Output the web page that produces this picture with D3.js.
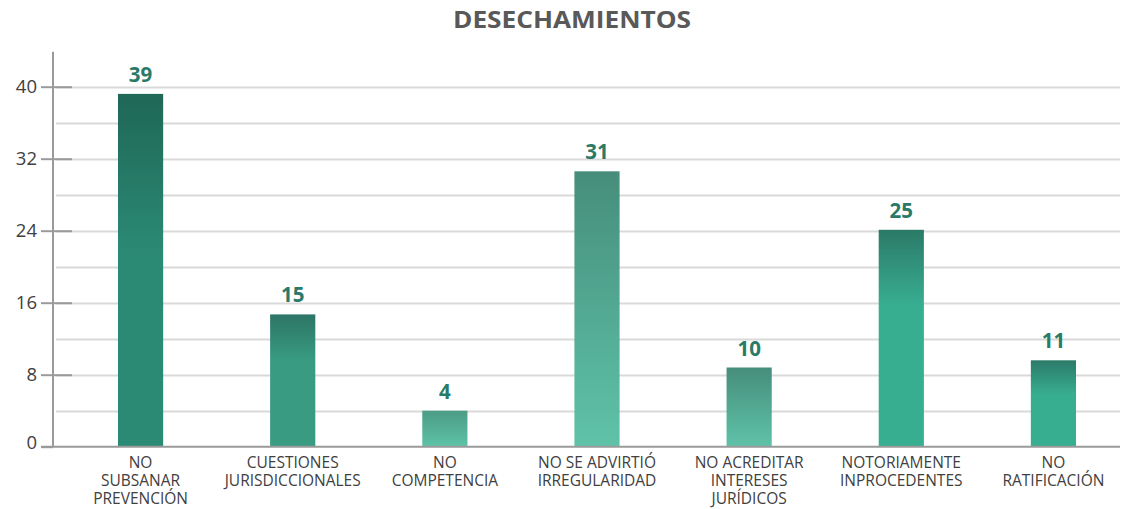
<!DOCTYPE html>
<html>
<head>
<meta charset="utf-8">
<script src="https://cdn.jsdelivr.net/npm/d3@7"></script>
<style>
  body { margin: 0; background: #fff; }
  svg { display: block; font-family: "Open Sans", sans-serif; }
</style>
</head>
<body>
<div id="chart"></div>
<script>
const width = 1123;
const height = 509;

// data
const categories = [
  ["NO", "SUBSANAR", "PREVENCIÓN"],
  ["CUESTIONES", "JURISDICCIONALES"],
  ["NO", "COMPETENCIA"],
  ["NO SE ADVIRTIÓ", "IRREGULARIDAD"],
  ["NO ACREDITAR", "INTERESES", "JURÍDICOS"],
  ["NOTORIAMENTE", "INPROCEDENTES"],
  ["NO", "RATIFICACIÓN"]
];
const labels = [39, 15, 4, 31, 10, 25, 11];          // numbers printed above bars
const barHeights = [39.2, 14.7, 4, 30.6, 8.8, 24.1, 9.6]; // where the bars actually end
const majorTicks = [0, 8, 16, 24, 32, 40];
const minorTicks = [4, 12, 20, 28, 36];

// gradient per bar: top colour, bottom colour, where the fade stops
const barColors = [
  ["#1f6757", "#2b8a74", 0.45],
  ["#2d7566", "#389b82", 0.35],
  ["#4b9c85", "#5ec3a8", 1],
  ["#468e7b", "#5fc3a9", 1],
  ["#468e7b", "#5fc3a9", 1],
  ["#2b7a68", "#38ae91", 0.35],
  ["#2b7a68", "#38ae91", 0.4]
];

const axisX = 53;
const gridRight = 1120;

const svg = d3.select("#chart").append("svg")
  .attr("width", width)
  .attr("height", height);

const x = d3.scaleBand()
  .domain(d3.range(categories.length))
  .range([64.5, 1129.5])
  .paddingInner(0.703)
  .paddingOuter(0.3515);

const y = d3.scaleLinear()
  .domain([0, 44])
  .range([446.7, 50.7]);

// title
svg.append("text")
  .attr("x", 572)
  .attr("y", 28)
  .attr("text-anchor", "middle")
  .attr("font-size", 24)
  .attr("font-weight", 700)
  .attr("fill", "#595959")
  .attr("textLength", 238)
  .attr("lengthAdjust", "spacingAndGlyphs")
  .text("DESECHAMIENTOS");

// grid lines
svg.append("g").selectAll("line")
  .data(majorTicks.concat(minorTicks).filter(d => d > 0))
  .enter()
  .append("line")
  .attr("x1", axisX + 3)
  .attr("x2", gridRight)
  .attr("y1", d => Math.round(y(d)) + 0.5)
  .attr("y2", d => Math.round(y(d)) + 0.5)
  .attr("stroke", "#d9d9d9")
  .attr("stroke-width", 2);

// y axis with tick labels
const yAxis = svg.append("g")
  .attr("transform", `translate(${axisX},0)`)
  .call(d3.axisLeft(y).tickValues(majorTicks).tickSize(12).tickPadding(4));
yAxis.select(".domain").remove();
yAxis.selectAll(".tick line").attr("stroke", "#9a9a9a").attr("stroke-width", 2);
yAxis.selectAll(".tick text")
  .attr("font-family", "'Open Sans', sans-serif")
  .attr("font-size", 18.5)
  .attr("fill", "#404040");
yAxis.selectAll(".tick").filter(d => d === 0).select("text").attr("dy", "0.1em");

// tick stubs to the right of the axis
svg.append("g")
  .attr("transform", `translate(${axisX},0)`)
  .call(d3.axisRight(y).tickValues(majorTicks.filter(d => d > 0)).tickSize(19).tickFormat(""))
  .call(g => g.select(".domain").remove())
  .selectAll(".tick line").attr("stroke", "#9a9a9a").attr("stroke-width", 2);

// vertical axis line
svg.append("line")
  .attr("x1", axisX).attr("x2", axisX)
  .attr("y1", y(44) + 1).attr("y2", y(0))
  .attr("stroke", "#9a9a9a")
  .attr("stroke-width", 2);

// gradients
const defs = svg.append("defs");
barColors.forEach((c, i) => {
  const g = defs.append("linearGradient")
    .attr("id", "grad" + i)
    .attr("x1", 0).attr("y1", 0).attr("x2", 0).attr("y2", 1);
  g.append("stop").attr("offset", 0).attr("stop-color", c[0]);
  g.append("stop").attr("offset", c[2]).attr("stop-color", c[1]);
  g.append("stop").attr("offset", 1).attr("stop-color", c[1]);
});

// bars
svg.append("g").selectAll("rect")
  .data(barHeights)
  .enter()
  .append("rect")
  .attr("x", (d, i) => x(i))
  .attr("y", d => y(d))
  .attr("width", x.bandwidth())
  .attr("height", d => y(0) - y(d))
  .attr("fill", (d, i) => `url(#grad${i})`);

// baseline
svg.append("line")
  .attr("x1", 41).attr("x2", gridRight)
  .attr("y1", y(0)).attr("y2", y(0))
  .attr("stroke", "#9a9a9a")
  .attr("stroke-width", 2);

// value labels
svg.append("g").selectAll("text")
  .data(labels)
  .enter()
  .append("text")
  .attr("x", (d, i) => x(i) + x.bandwidth() / 2)
  .attr("y", (d, i) => y(barHeights[i]) - 12)
  .attr("text-anchor", "middle")
  .attr("font-size", 20.5)
  .attr("font-weight", 700)
  .attr("fill", "#2a7a68")
  .text(d => d);

// category labels
const cat = svg.append("g").selectAll("text")
  .data(categories)
  .enter()
  .append("text")
  .attr("text-anchor", "middle")
  .attr("font-size", 15.5)
  .attr("fill", "#404040");
cat.each(function(lines, i) {
  d3.select(this).selectAll("tspan")
    .data(lines)
    .enter()
    .append("tspan")
    .attr("x", x(i) + x.bandwidth() / 2)
    .attr("y", (d, j) => 468 + j * 18.2)
    .text(d => d);
});
</script>
</body>
</html>
